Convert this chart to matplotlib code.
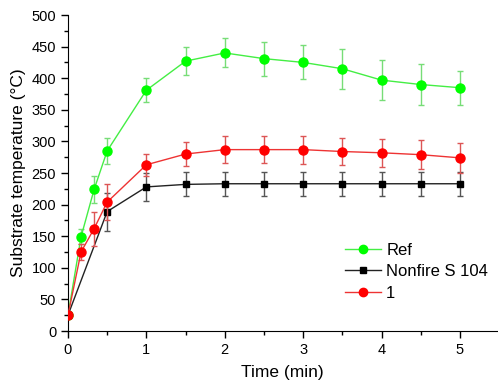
import matplotlib.pyplot as plt
from matplotlib.lines import Line2D

plt.rcParams['font.family'] = ['Liberation Sans', 'DejaVu Sans']

# Substrate temperature over time, mean and spread for each sample
t_ref = [0, 1/6, 1/3, 0.5, 1, 1.5, 2, 2.5, 3, 3.5, 4, 4.5, 5]
ref_temp = [25, 149, 224, 285, 381, 427, 440, 431, 425, 415, 397, 390, 385]
ref_err = [0, 12, 22, 21, 19, 22, 23, 27, 27, 32, 32, 32, 27]

t_nonfire = [0, 0.5, 1, 1.5, 2, 2.5, 3, 3.5, 4, 4.5, 5]
nonfire_temp = [25, 189, 228, 232, 233, 233, 233, 233, 233, 233, 233]
nonfire_err = [0, 30, 22, 19, 19, 19, 19, 19, 19, 19, 19]

t_one = [0, 1/6, 1/3, 0.5, 1, 1.5, 2, 2.5, 3, 3.5, 4, 4.5, 5]
one_temp = [25, 125, 162, 204, 263, 280, 287, 287, 287, 284, 282, 279, 274]
one_err = [0, 13, 27, 28, 17, 19, 21, 21, 22, 22, 22, 23, 24]

series = [
    ('Ref', t_ref, ref_temp, ref_err, '#44ee44', '#00ff00', '#77dd77', 'o', 6.5),
    ('Nonfire S 104', t_nonfire, nonfire_temp, nonfire_err, '#222222', 'black', '#555555', 's', 5),
    ('1', t_one, one_temp, one_err, '#ee3333', '#ff0000', '#dd5555', 'o', 6.5),
]

fig = plt.figure(figsize=(4.98, 3.87), dpi=100)
ax = fig.add_axes([0.1365, 0.1447, 0.861, 0.8165])

handles = []
for z, (name, t, temp, err, lc, mc, ec, mk, ms) in enumerate(series):
    ax.errorbar(t, temp, yerr=err, color=lc, ecolor=ec, elinewidth=1,
                capsize=2.5, lw=1, marker=mk, ms=ms, mfc=mc, mec=mc, zorder=2 + z)
    handles.append(Line2D([], [], color=lc, lw=1, marker=mk, ms=ms - 0.5,
                          mfc=mc, mec=mc, label=name))

ax.set_xlim(0, 5.47)
ax.set_ylim(0, 500)
ax.set_xticks(range(0, 6))
ax.set_xticks([0.5, 1.5, 2.5, 3.5, 4.5], minor=True)
ax.set_yticks(range(0, 501, 50))
ax.set_yticks(range(25, 500, 50), minor=True)
ax.tick_params(direction='out', length=5, width=1, labelsize=10.5)
ax.tick_params(which='minor', direction='out', length=3, width=1)

ax.spines['top'].set_visible(False)
ax.spines['right'].set_visible(False)

ax.set_xlabel('Time (min)', fontsize=12.5, labelpad=6)
ax.set_ylabel('Substrate temperature (°C)', fontsize=12.5, labelpad=4)

ax.legend(handles=handles, loc='center', bbox_to_anchor=(0.836, 0.298),
          bbox_transform=fig.transFigure, frameon=False, fontsize=12,
          handlelength=2.2, handletextpad=0.3, labelspacing=0.38)

fig.savefig('out.png', dpi=100)
